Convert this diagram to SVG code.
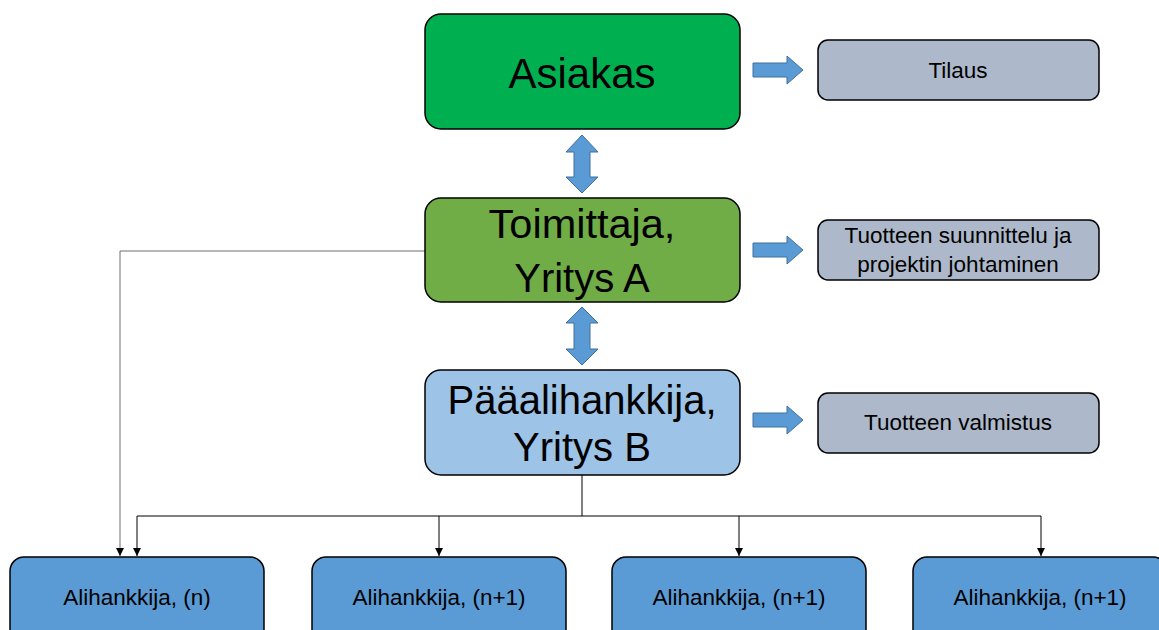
<svg xmlns="http://www.w3.org/2000/svg" width="1159" height="630" viewBox="0 0 1159 630">
<style>
  .box { stroke: #000; stroke-width: 1.5; }
  .big { font-family: "Liberation Sans", Arial, sans-serif; font-size: 40px; fill: #000; text-anchor: middle; }
  .small { font-family: "Liberation Sans", Arial, sans-serif; font-size: 22.5px; fill: #000; text-anchor: middle; }
  .blk { fill: #5b9bd5; stroke: #41719c; stroke-width: 1; }
  .conn { fill: none; stroke: #000; stroke-width: 1; }
</style>
<defs>
  <marker id="ah" markerWidth="10" markerHeight="10" refX="8" refY="4" orient="auto" markerUnits="userSpaceOnUse">
    <path d="M0,0 L8,4 L0,8 Z" fill="#000"/>
  </marker>
</defs>
<rect width="1159" height="630" fill="#fff"/>

<g id="connectors">
  <path class="conn" d="M425,251 H120 V556" marker-end="url(#ah)" style="stroke:#6e6e6e"/>
  <path class="conn" d="M582,475 V516"/>
  <path class="conn" d="M137,516 H1041"/>
  <path class="conn" d="M137,516 V556" marker-end="url(#ah)"/>
  <path class="conn" d="M439,516 V556" marker-end="url(#ah)"/>
  <path class="conn" d="M739,516 V556" marker-end="url(#ah)"/>
  <path class="conn" d="M1041,516 V556" marker-end="url(#ah)"/>
  <path class="blk" d="M582,135 L598,152 L590,152 L590,177 L598,177 L582,193 L566,177 L574,177 L574,152 L566,152 Z"/>
  <path class="blk" d="M582,307 L598,323 L590,323 L590,349 L598,349 L582,365 L566,349 L574,349 L574,323 L566,323 Z"/>
  <path class="blk" d="M753,63 H787 V56 L803,70 L787,84 V77 H753 Z"/>
  <path class="blk" d="M753,243 H787 V236 L803,250 L787,264 V257 H753 Z"/>
  <path class="blk" d="M753,413 H787 V406 L803,420 L787,434 V427 H753 Z"/>
</g>

<g id="asiakas">
  <rect class="box" x="425" y="14" width="315" height="115" rx="16" fill="#00b050"/>
  <text class="big" x="582" y="88" style="font-size:42px">Asiakas</text>
</g>
<g id="toimittaja">
  <rect class="box" x="425" y="198" width="315" height="104" rx="16" fill="#70ad47"/>
  <text class="big" x="582" y="238" style="font-size:41.5px">Toimittaja,</text>
  <text class="big" x="582" y="292">Yritys A</text>
</g>
<g id="paaalihankkija">
  <rect class="box" x="425" y="370" width="315" height="105" rx="16" fill="#9dc3e6"/>
  <text class="big" x="582" y="414">Pääalihankkija,</text>
  <text class="big" x="582" y="461">Yritys B</text>
</g>
<g id="tilaus">
  <rect class="box" x="818" y="40" width="281" height="60" rx="10" fill="#adb9ca"/>
  <text class="small" x="958" y="78">Tilaus</text>
</g>
<g id="suunnittelu">
  <rect class="box" x="818" y="220" width="281" height="60" rx="10" fill="#adb9ca"/>
  <text class="small" x="958" y="243">Tuotteen suunnittelu ja</text>
  <text class="small" x="958" y="272">projektin johtaminen</text>
</g>
<g id="valmistus">
  <rect class="box" x="818" y="393" width="281" height="60" rx="10" fill="#adb9ca"/>
  <text class="small" x="958" y="430">Tuotteen valmistus</text>
</g>
<g id="ali1">
  <rect class="box" x="10" y="557" width="254" height="90" rx="14" fill="#5b9bd5"/>
  <text class="small" x="137" y="605">Alihankkija, (n)</text>
</g>
<g id="ali2">
  <rect class="box" x="312" y="557" width="254" height="90" rx="14" fill="#5b9bd5"/>
  <text class="small" x="439" y="605">Alihankkija, (n+1)</text>
</g>
<g id="ali3">
  <rect class="box" x="612" y="557" width="254" height="90" rx="14" fill="#5b9bd5"/>
  <text class="small" x="739" y="605">Alihankkija, (n+1)</text>
</g>
<g id="ali4">
  <rect class="box" x="913" y="557" width="254" height="90" rx="14" fill="#5b9bd5"/>
  <text class="small" x="1040" y="605">Alihankkija, (n+1)</text>
</g>
</svg>
